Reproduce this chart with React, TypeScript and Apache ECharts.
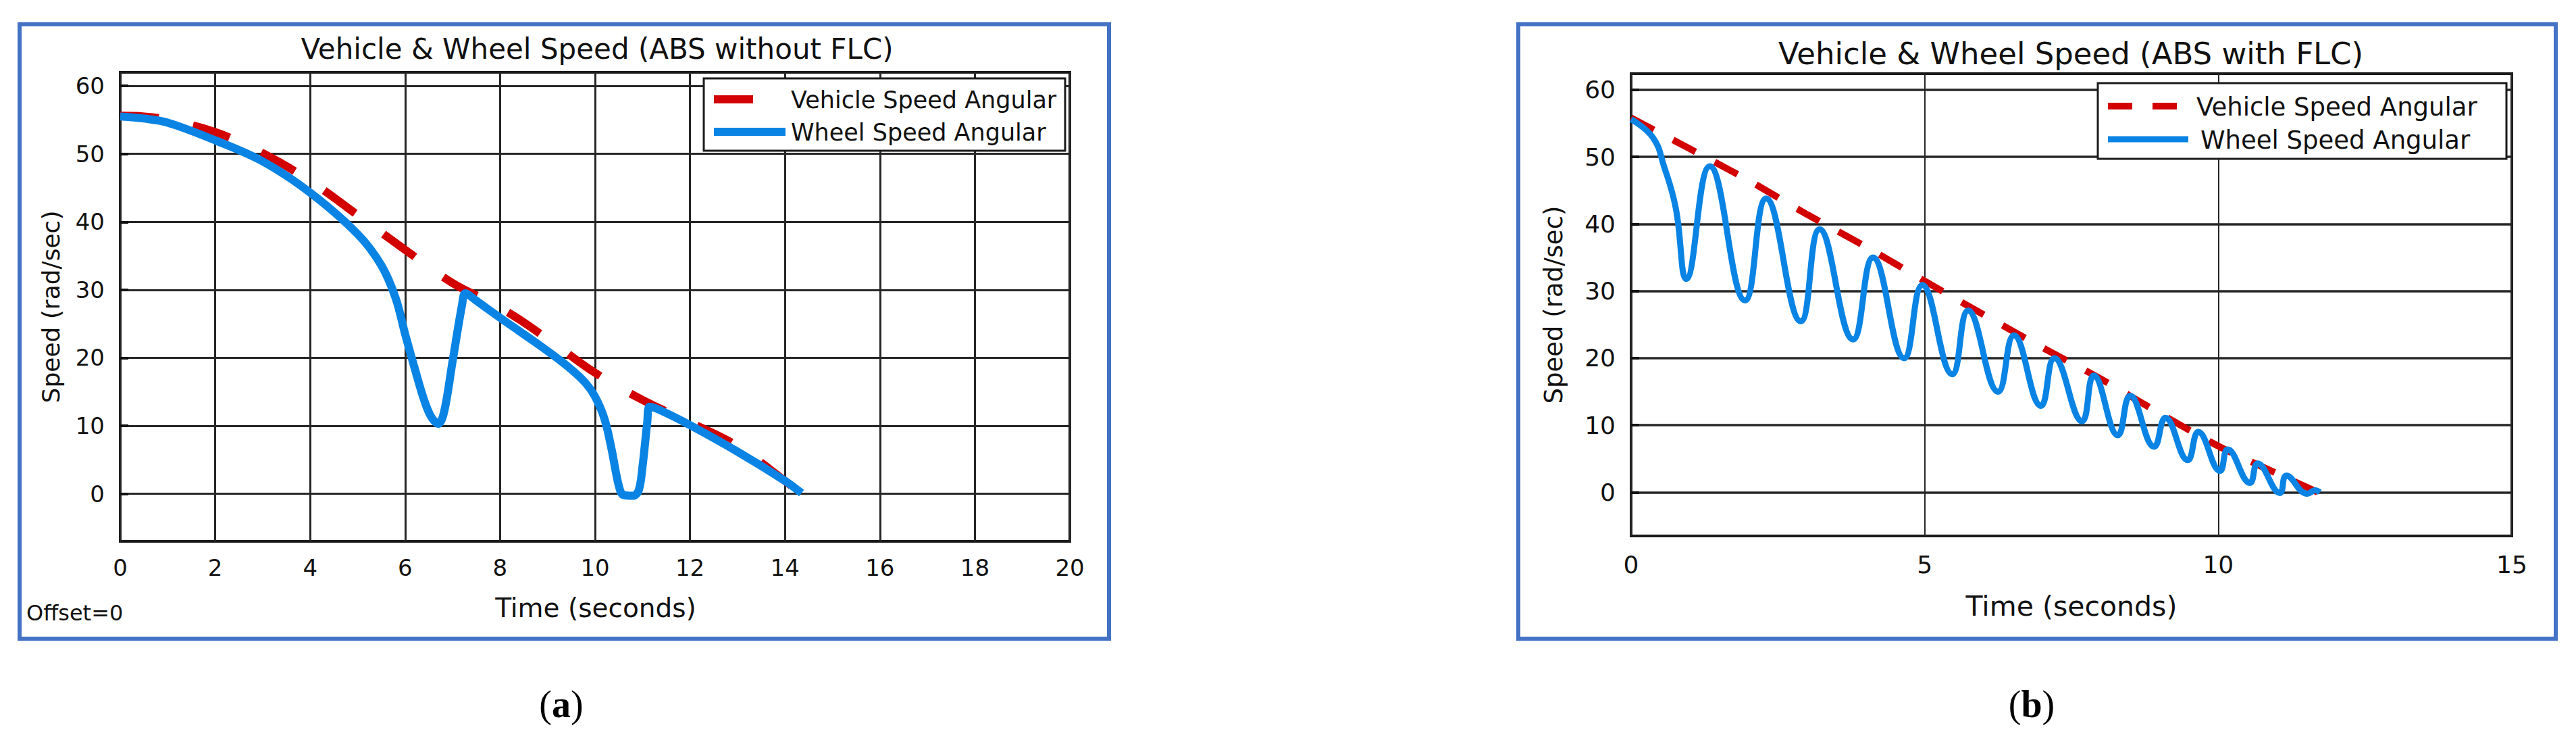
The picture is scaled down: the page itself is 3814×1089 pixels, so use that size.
import React, { useEffect, useRef } from 'react';
import * as echarts from 'echarts';

// ---------- Data ----------
const seriesNames = ['Vehicle Speed Angular', 'Wheel Speed Angular'];
const titleA = 'Vehicle & Wheel Speed (ABS without FLC)';
const titleB = 'Vehicle & Wheel Speed (ABS with FLC)';
const xName = 'Time (seconds)';
const yName = 'Speed (rad/sec)';

// Panel (a): ABS without FLC
const timeVehicleA = [0, 0.5, 1, 2, 3, 4, 5, 6, 7, 8, 9, 10, 11, 12, 13, 14, 14.35];
const speedVehicleA = [55.6, 55.5, 55.0, 53.2, 50.1, 46.0, 41.0, 35.9, 31.0, 27.4, 22.8, 17.8, 13.8, 10.5, 7.0, 1.9, 0];
const timeWheelA = [0, 0.5, 1, 2, 3, 4, 5, 5.5, 5.8, 6.0, 6.2, 6.4, 6.55, 6.7, 6.82, 7.0, 7.2, 7.27, 7.5, 8, 9, 9.5, 9.8, 10.0, 10.2, 10.35, 10.5, 10.6, 10.8, 10.92, 11.0, 11.1, 11.15, 11.4, 12, 13, 14, 14.35];
const speedWheelA = [55.5, 55.2, 54.6, 52.0, 48.9, 44.3, 38.2, 33.6, 28.8, 23.5, 18.5, 13.8, 11.3, 10.3, 12.0, 19.5, 27.8, 29.5, 28.4, 25.9, 21.0, 18.3, 16.3, 14.3, 11.0, 6.5, 1.2, -0.2, -0.3, 0.5, 4.0, 10.5, 12.8, 12.2, 10.1, 6.2, 1.9, 0.1];

// Panel (b): ABS with FLC
const timeVehicleB = [0, 1, 2, 3, 4, 5, 6, 7, 8, 9, 10, 11, 11.7];
const speedVehicleB = [55.8, 51.2, 46.5, 41.4, 36.6, 31.5, 26.5, 21.6, 16.9, 11.8, 6.9, 2.8, 0];
const timeWheelB = [0, 0.37, 0.56, 0.76, 0.94, 1.34, 1.94, 2.3, 2.89, 3.21, 3.78, 4.12, 4.65, 4.96, 5.47, 5.74, 6.25, 6.52, 6.98, 7.21, 7.68, 7.88, 8.29, 8.5, 8.91, 9.1, 9.48, 9.66, 10.03, 10.16, 10.54, 10.67, 11.05, 11.16, 11.52, 11.65, 11.73];
const speedWheelB = [55.6, 52.9, 48.6, 42.4, 31.8, 48.6, 28.6, 43.8, 25.5, 39.2, 22.8, 35.0, 20.0, 30.9, 17.6, 27.1, 15.0, 23.4, 12.9, 20.0, 10.6, 17.4, 8.5, 14.4, 6.8, 11.1, 4.8, 9.0, 3.2, 6.4, 1.4, 4.3, -0.1, 2.5, -0.2, 0.3, 0];

// Ticks
const xTicksA = [0, 2, 4, 6, 8, 10, 12, 14, 16, 18, 20];
const xTicksB = [0, 5, 10, 15];
const yTicks = [0, 10, 20, 30, 40, 50, 60];

const SANS = '"DejaVu Sans", "Liberation Sans", sans-serif';
const SERIF = '"Liberation Serif", "DejaVu Serif", serif';
const RED = '#D20000';
const BLUE = '#0A84E4';
const FRAME = '#4472C4';
const INK = '#111111';
const GRIDC = '#262626';

const pair = (t: number[], v: number[]) => t.map((x, i) => [x, v[i]]);

export default function App() {
  const ref = useRef<HTMLDivElement>(null);
  useEffect(() => {
    if (!ref.current) return;
    const chart = echarts.init(ref.current, undefined, { renderer: 'svg' });

    const txt = (x: number, y: number, text: string, size: number, extra: any = {}) => ({
      type: 'text', x, y, z: 100, ...extra,
      style: { text, fontFamily: SANS, fontSize: size, fill: INK, align: 'center', verticalAlign: 'middle', ...(extra.style || {}) },
    });

    const option: any = {
      animation: false,
      backgroundColor: '#ffffff',
      grid: [
        { left: 178, top: 107, width: 1406, height: 694, show: true, borderColor: '#1a1a1a', borderWidth: 4, backgroundColor: '#fff' },
        { left: 2415, top: 109, width: 1304, height: 684, show: true, borderColor: '#1a1a1a', borderWidth: 4, backgroundColor: '#fff' },
      ],
      xAxis: [
        {
          gridIndex: 0, type: 'value', min: xTicksA[0], max: xTicksA[xTicksA.length - 1], interval: 2,
          axisLine: { show: false }, axisTick: { show: false },
          axisLabel: { fontFamily: SANS, fontSize: 34, color: INK, margin: 22 },
          splitLine: { show: true, lineStyle: { color: GRIDC, width: 3 } },
        },
        {
          gridIndex: 1, type: 'value', min: xTicksB[0], max: xTicksB[xTicksB.length - 1], interval: 5,
          axisLine: { show: false }, axisTick: { show: false },
          axisLabel: { fontFamily: SANS, fontSize: 36, color: INK, margin: 24 },
          splitLine: { show: true, lineStyle: { color: GRIDC, width: 2 } },
        },
      ],
      yAxis: [
        {
          gridIndex: 0, type: 'value', min: -7, max: 62,
          axisLine: { show: false },
          axisTick: { show: true, inside: true, length: 12, customValues: yTicks, lineStyle: { color: '#111', width: 4 } },
          axisLabel: { customValues: yTicks, fontFamily: SANS, fontSize: 34, color: INK, margin: 23 },
          splitLine: { show: true, lineStyle: { color: GRIDC, width: 3 } },
        },
        {
          gridIndex: 1, type: 'value', min: -6.5, max: 62.4,
          axisLine: { show: false },
          axisTick: { show: true, inside: true, length: 12, customValues: yTicks, lineStyle: { color: '#111', width: 4 } },
          axisLabel: { customValues: yTicks, fontFamily: SANS, fontSize: 36, color: INK, margin: 23 },
          splitLine: { show: true, lineStyle: { color: GRIDC, width: 3.5 } },
        },
      ],
      series: [
        {
          name: seriesNames[0], type: 'line', xAxisIndex: 0, yAxisIndex: 0, data: pair(timeVehicleA, speedVehicleA),
          symbol: 'none', showSymbol: false, smooth: 0.4, silent: true, z: 3,
          lineStyle: { color: RED, width: 12, type: [57, 52], cap: 'butt' },
        },
        {
          name: seriesNames[1], type: 'line', xAxisIndex: 0, yAxisIndex: 0, data: pair(timeWheelA, speedWheelA),
          symbol: 'none', showSymbol: false, smooth: 0.35, silent: true, z: 4,
          lineStyle: { color: BLUE, width: 12 },
        },
        {
          name: seriesNames[0], type: 'line', xAxisIndex: 1, yAxisIndex: 1, data: pair(timeVehicleB, speedVehicleB),
          symbol: 'none', showSymbol: false, smooth: 0.3, silent: true, z: 3,
          lineStyle: { color: RED, width: 10, type: [38, 32], cap: 'butt' },
        },
        {
          name: seriesNames[1], type: 'line', xAxisIndex: 1, yAxisIndex: 1, data: pair(timeWheelB, speedWheelB),
          symbol: 'none', showSymbol: false, smooth: 0.45, silent: true, z: 4,
          lineStyle: { color: BLUE, width: 9 },
        },
      ],
      graphic: [
        // panel frames
        { type: 'rect', z: 90, shape: { x: 29, y: 36, width: 1613, height: 909 }, style: { fill: 'none', stroke: FRAME, lineWidth: 6 } },
        { type: 'rect', z: 90, shape: { x: 2248, y: 36, width: 1536, height: 909 }, style: { fill: 'none', stroke: FRAME, lineWidth: 6 } },
        // titles
        txt(884, 72, titleA, 42),
        txt(3066, 79, titleB, 45),
        // axis names
        txt(882, 899, xName, 39),
        txt(3067, 897, xName, 41),
        txt(75, 454, yName, 36, { rotation: Math.PI / 2 }),
        txt(2300, 451, yName, 37, { rotation: Math.PI / 2 }),
        // offset note
        txt(39, 907, 'Offset=0', 32, { style: { align: 'left' } }),
        // legend (a)
        { type: 'rect', z: 100, shape: { x: 1042, y: 116, width: 535, height: 107 }, style: { fill: '#fff', stroke: '#1a1a1a', lineWidth: 3 } },
        { type: 'line', z: 101, shape: { x1: 1057, y1: 147, x2: 1115, y2: 147 }, style: { stroke: RED, lineWidth: 12 } },
        { type: 'line', z: 101, shape: { x1: 1057, y1: 195, x2: 1163, y2: 195 }, style: { stroke: BLUE, lineWidth: 12 } },
        txt(1171, 148, seriesNames[0], 35, { z: 101, style: { align: 'left' } }),
        txt(1171, 196, seriesNames[1], 35, { z: 101, style: { align: 'left' } }),
        // legend (b)
        { type: 'rect', z: 100, shape: { x: 3106, y: 123, width: 605, height: 112 }, style: { fill: '#fff', stroke: '#1a1a1a', lineWidth: 3 } },
        { type: 'line', z: 101, shape: { x1: 3121, y1: 157, x2: 3240, y2: 157 }, style: { stroke: RED, lineWidth: 10, lineDash: [36, 30] } },
        { type: 'line', z: 101, shape: { x1: 3121, y1: 206, x2: 3240, y2: 206 }, style: { stroke: BLUE, lineWidth: 9 } },
        txt(3252, 158, seriesNames[0], 37, { z: 101, style: { align: 'left' } }),
        txt(3258, 207, seriesNames[1], 37, { z: 101, style: { align: 'left' } }),
        // captions
        {
          type: 'text', x: 831, y: 1042, z: 100,
          style: { text: '({b|a})', fontFamily: SERIF, fontSize: 56, fill: '#000', align: 'center', verticalAlign: 'middle',
            rich: { b: { fontFamily: SERIF, fontSize: 56, fontWeight: 'bold', fill: '#000' } } },
        },
        {
          type: 'text', x: 3008, y: 1042, z: 100,
          style: { text: '({b|b})', fontFamily: SERIF, fontSize: 56, fill: '#000', align: 'center', verticalAlign: 'middle',
            rich: { b: { fontFamily: SERIF, fontSize: 56, fontWeight: 'bold', fill: '#000' } } },
        },
      ],
    };
    chart.setOption(option);
    return () => chart.dispose();
  }, []);

  return (
    <div
      ref={ref}
      style={{ position: 'absolute', left: 0, top: 0, width: 3814, height: 1089, background: '#fff' }}
    />
  );
}
